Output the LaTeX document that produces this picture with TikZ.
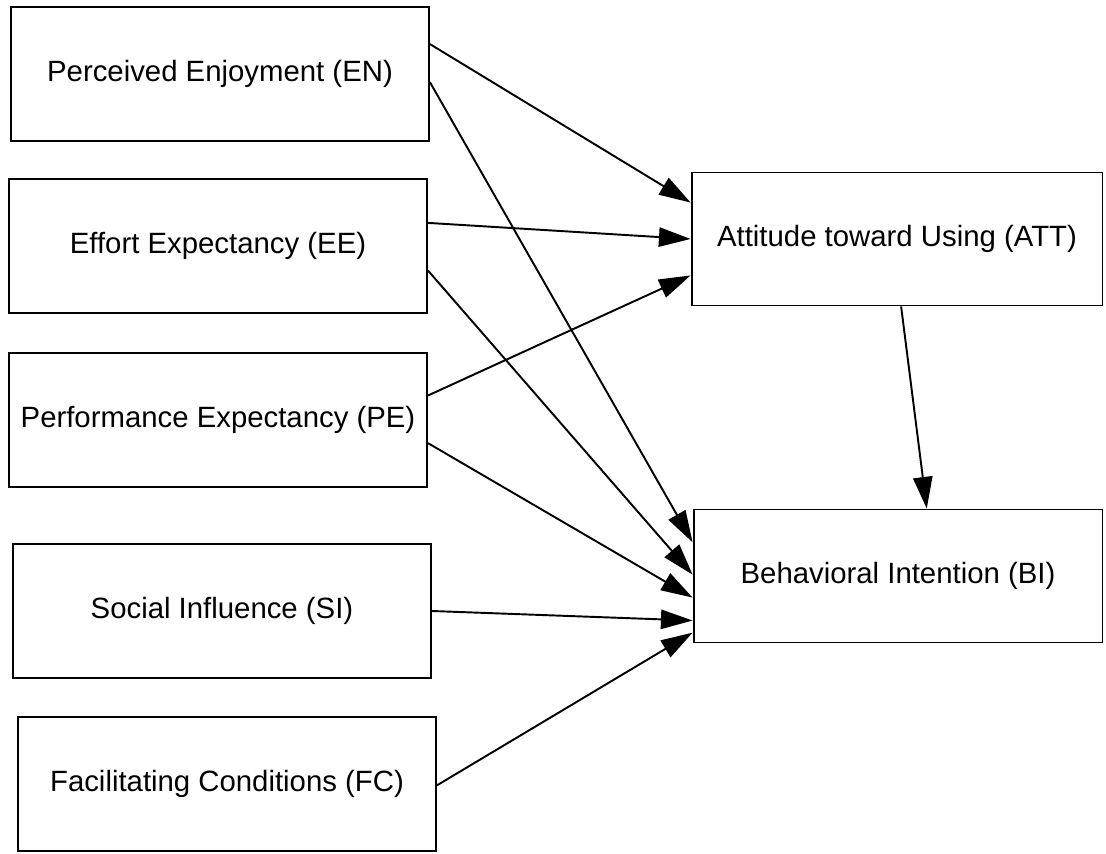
\documentclass[tikz,border=0pt]{standalone}
\usepackage{fontspec}
\setmainfont{Liberation Sans}
\usetikzlibrary{calc, arrows.meta}

\begin{document}
\begin{tikzpicture}[x=0.02cm, y=-0.02cm, >={Triangle[length=18pt, width=11pt]}]
	\tikzstyle{construct}=[rectangle, draw, line width=1.1pt,
	minimum width=8.36cm, minimum height=2.68cm, inner sep=0pt,
	font=\fontsize{16.7}{20}\selectfont]
	\tikzstyle{path}=[line width=1.1pt, ->]

	\useasboundingbox (0,0) rectangle (1106,854);

	\node[construct] at (220,74) (en) {Perceived Enjoyment (EN)};
	\node[construct] at (218,246) (ee) {Effort Expectancy (EE)};
	\node[construct] at (218,420) (pe) {Performance Expectancy (PE)};
	\node[construct] at (222,611) (si) {Social Influence (SI)};
	\node[construct] at (227,784) (fc) {Facilitating Conditions (FC)};
	\node[construct, minimum width=8.22cm, minimum height=2.66cm] at (897,239) (att) {Attitude toward Using (ATT)};
	\node[construct, minimum width=8.18cm, minimum height=2.66cm] at (898,576) (bi) {Behavioral Intention (BI)};

	% into ATT
	\draw[path] ($(en.north east)!0.28!(en.south east)$) -- ($(att.north west)!0.23!(att.south west)$);
	\draw[path] ($(ee.north east)!0.33!(ee.south east)$) -- ($(att.north west)!0.5!(att.south west)$);
	\draw[path] ($(pe.north east)!0.32!(pe.south east)$) -- ($(att.north west)!0.77!(att.south west)$);

	% into BI
	\draw[path] ($(en.north east)!0.56!(en.south east)$) -- ($(bi.north west)!0.25!(bi.south west)$);
	\draw[path] ($(ee.north east)!0.68!(ee.south east)$) -- ($(bi.north west)!0.49!(bi.south west)$);
	\draw[path] ($(pe.north east)!0.67!(pe.south east)$) -- ($(bi.north west)!0.66!(bi.south west)$);
	\draw[path] ($(si.north east)!0.5!(si.south east)$) -- ($(bi.north west)!0.83!(bi.south west)$);
	\draw[path] ($(fc.north east)!0.51!(fc.south east)$) -- ($(bi.north west)!0.92!(bi.south west)$);

	\draw[path] ($(att.south west)!0.51!(att.south east)$) -- ($(bi.north west)!0.57!(bi.north east)$);
\end{tikzpicture}
\end{document}
